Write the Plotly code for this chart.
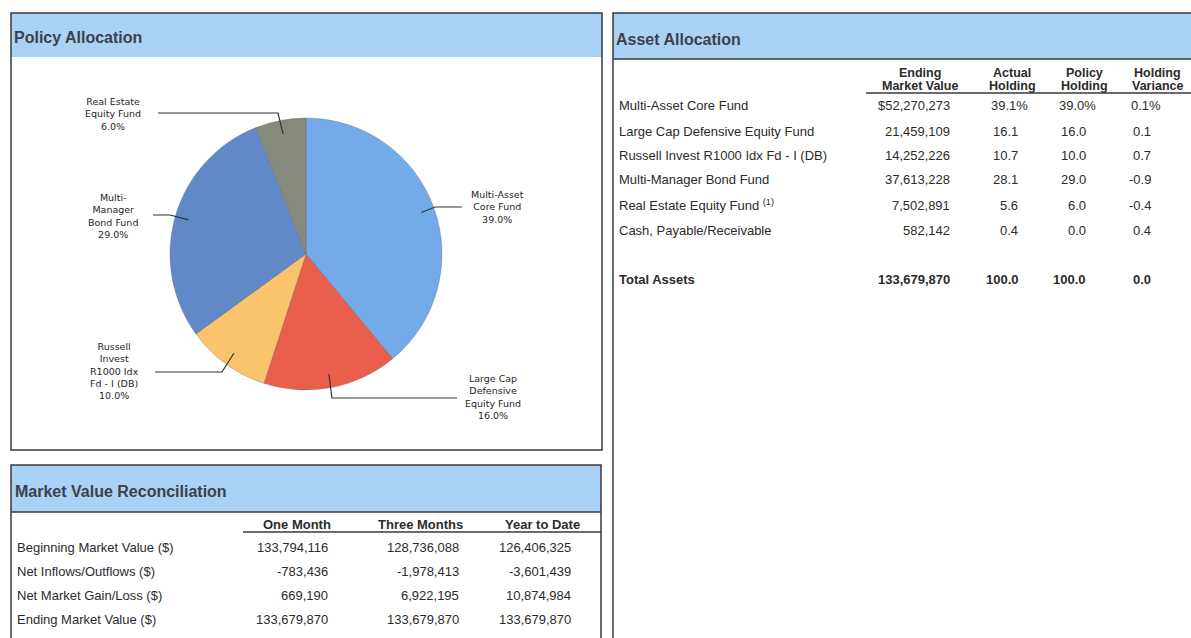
import math
import plotly.graph_objects as go

W, H = 1191, 638

# ---------------- data ----------------
pie_labels = ["Multi-Asset<br>Core Fund", "Large Cap<br>Defensive<br>Equity Fund",
              "Russell<br>Invest<br>R1000 Idx<br>Fd - I (DB)", "Multi-<br>Manager<br>Bond Fund",
              "Real Estate<br>Equity Fund"]
pie_values = [39.0, 16.0, 10.0, 29.0, 6.0]
pie_colors = ["#72aaea", "#ea5f4b", "#fbc46c", "#6289c7", "#868a7b"]

asset_rows = ["Multi-Asset Core Fund", "Large Cap Defensive Equity Fund",
              "Russell Invest R1000 Idx Fd - I (DB)", "Multi-Manager Bond Fund",
              "Real Estate Equity Fund <sup>(1)</sup>", "Cash, Payable/Receivable"]
asset_ending = ["$52,270,273", "21,459,109", "14,252,226", "37,613,228", "7,502,891", "582,142"]
asset_actual = ["39.1%", "16.1", "10.7", "28.1", "5.6", "0.4"]
asset_policy = ["39.0%", "16.0", "10.0", "29.0", "6.0", "0.0"]
asset_variance = ["0.1%", "0.1", "0.7", "-0.9", "-0.4", "0.4"]
asset_headers = [("Ending", "Market Value"), ("Actual", "Holding"), ("Policy", "Holding"), ("Holding", "Variance")]
total_label = "Total Assets"
total_values = ["133,679,870", "100.0", "100.0", "0.0"]

mv_rows = ["Beginning Market Value ($)", "Net Inflows/Outflows ($)",
           "Net Market Gain/Loss ($)", "Ending Market Value ($)"]
mv_headers = ["One Month", "Three Months", "Year to Date"]
mv_one_month = ["133,794,116", "-783,436", "669,190", "133,679,870"]
mv_three_months = ["128,736,088", "-1,978,413", "6,922,195", "133,679,870"]
mv_ytd = ["126,406,325", "-3,601,439", "10,874,984", "133,679,870"]

# ---------------- helpers ----------------
def X(px):
    return px / W

def Y(py):
    return 1 - py / H

TXT = "#2b2b2b"
TITLE = "#3d414c"
BAND = "#a9d2f5"
BORDER = "#3a3a3a"
FONT = "Liberation Sans, Arial, sans-serif"

fig = go.Figure()

# pie
cx, cy, R = 306, 254, 136
fig.add_trace(go.Pie(
    labels=[l.replace("<br>", " ") for l in pie_labels],
    values=pie_values,
    marker=dict(colors=pie_colors, line=dict(color="rgba(80,80,80,0.45)", width=0.6)),
    sort=False, direction="clockwise", rotation=0,
    textinfo="none", hoverinfo="label+percent", showlegend=False,
    domain=dict(x=[X(cx - R), X(cx + R)], y=[Y(cy + R), Y(cy - R)]),
))

shapes = []
annotations = []

def rect(x0, y0, x1, y1, fill=None, line=True):
    shapes.append(dict(type="rect", xref="paper", yref="paper",
                       x0=X(x0), x1=X(x1), y0=Y(y1), y1=Y(y0),
                       fillcolor=fill if fill else "rgba(0,0,0,0)",
                       line=dict(color=BORDER, width=1.5) if line else dict(width=0),
                       layer="below"))

def hline(x0, x1, y, w=1.5):
    shapes.append(dict(type="line", xref="paper", yref="paper",
                       x0=X(x0), x1=X(x1), y0=Y(y), y1=Y(y),
                       line=dict(color=BORDER, width=w)))

def text(x, y, s, size=13, bold=False, anchor="left", color=TXT, family=FONT):
    if bold:
        s = "<b>" + s + "</b>"
    annotations.append(dict(xref="paper", yref="paper", x=X(x), y=Y(y), text=s,
                            showarrow=False, xanchor=anchor, yanchor="middle",
                            font=dict(size=size, color=color, family=family), align="center"))

# panels
rect(11, 13, 602, 57, fill=BAND, line=False)
rect(11, 13, 602, 450)
rect(11, 465, 601, 512, fill=BAND, line=False)
rect(11, 465, 601, 700)
hline(11, 601, 512)
rect(613, 13, 1260, 59, fill=BAND, line=False)
rect(613, 13, 1260, 700)
hline(613, 1260, 59)

text(12, 37, "Policy Allocation", size=16, bold=True, color=TITLE)
text(614, 39, "Asset Allocation", size=16, bold=True, color=TITLE)
text(13, 491, "Market Value Reconciliation", size=16, bold=True, color=TITLE)

# pie labels & leader lines
label_pos = [(497, 207), (493, 397), (115, 371), (113, 216), (113, 114)]
pcts = [f"{v:.1f}%" for v in pie_values]
elbows = [
    lambda ix, iy: [(435, 207), (462, 207)],
    lambda ix, iy: [(ix + 3, 398), (457, 398)],
    lambda ix, iy: [(222, 372), (155, 372)],
    lambda ix, iy: [(170, 215), (153, 215)],
    lambda ix, iy: [(278, 113), (158, 113)],
]
cum = 0.0
total = sum(pie_values)
for i, v in enumerate(pie_values):
    mid = (cum + v / 2) / total * 2 * math.pi
    cum += v
    ix = cx + 0.9 * R * math.sin(mid)
    iy = cy - 0.9 * R * math.cos(mid)
    pts = [(ix, iy)] + elbows[i](ix, iy)
    path = "M " + " L ".join(f"{X(px)},{Y(py)}" for px, py in pts)
    shapes.append(dict(type="path", xref="paper", yref="paper", path=path,
                       line=dict(color="#333333", width=1.2)))
    lx, ly = label_pos[i]
    text(lx, ly, pie_labels[i] + "<br>" + pcts[i], size=9.5, anchor="center",
         color="#262626", family="DejaVu Sans, sans-serif")

# asset allocation table
hdr_x = [920, 1012, 1084, 1157]
for hx, (h1, h2) in zip(hdr_x, asset_headers):
    text(hx, 73, h1, size=12.5, bold=True, anchor="center")
    text(hx, 86, h2, size=12.5, bold=True, anchor="center")
hline(866, 1200, 93)
row_y = [106, 131, 155, 180, 205, 230]
pct_w = 10
for i, y in enumerate(row_y):
    text(617, y, asset_rows[i], size=13)
    text(952, y, asset_ending[i], size=13, anchor="right")
    for xr, col in zip([1020, 1088, 1153], [asset_actual, asset_policy, asset_variance]):
        s = col[i]
        text(xr + (pct_w if s.endswith("%") else 0), y, s, size=13, anchor="right")
text(617, 279, total_label, size=13, bold=True)
for xr, val in zip([952, 1021, 1088, 1153], total_values):
    text(xr, 279, val, size=13, bold=True, anchor="right")

# market value reconciliation
for hx, h in zip([297, 420, 542], mv_headers):
    text(hx, 524, h, size=13, bold=True, anchor="center")
hline(243, 601, 532)
mv_y = [547, 571, 595, 619]
for i, y in enumerate(mv_y):
    text(15, y, mv_rows[i], size=13)
    text(330, y, mv_one_month[i], size=13, anchor="right")
    text(461, y, mv_three_months[i], size=13, anchor="right")
    text(573, y, mv_ytd[i], size=13, anchor="right")

fig.update_layout(
    width=W, height=H,
    margin=dict(l=0, r=0, t=0, b=0),
    paper_bgcolor="white", plot_bgcolor="white",
    shapes=shapes, annotations=annotations,
    showlegend=False,
)
fig.write_html("out.html", config={"displayModeBar": False},
               post_script="document.body.style.margin='0px';document.body.style.padding='0px';")
